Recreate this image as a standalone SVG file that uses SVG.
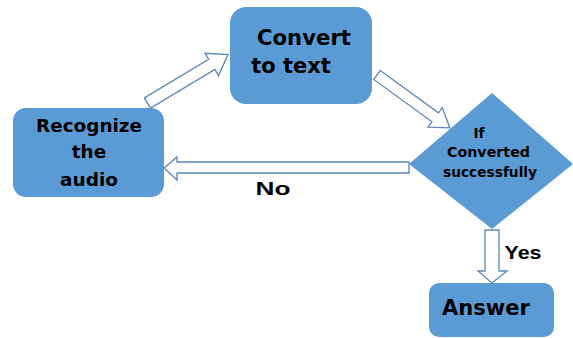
<svg xmlns="http://www.w3.org/2000/svg" width="573" height="338" viewBox="0 0 573 338">
<style>
.box{fill:#5B9BD5;}
.arr{fill:#ffffff;stroke:#5E86B5;stroke-width:1.3;stroke-linejoin:miter;}
.t{font-family:"DejaVu Sans","Liberation Sans",sans-serif;font-weight:bold;fill:#000;text-anchor:middle;}
.lbl{font-family:"Liberation Sans",Arial,sans-serif;font-weight:bold;fill:#000;text-anchor:middle;}
</style>
<rect width="573" height="338" fill="#ffffff"/>
<g id="connectors">
<polygon class="arr" transform="translate(147.5 103) rotate(-31)" points="0,-6 75,-6 75,-13 94,0 75,13 75,6 0,6"/>
<polygon class="arr" transform="translate(377 75) rotate(36)" points="0,-5.5 72,-5.5 72,-12 90,0 72,12 72,5.5 0,5.5"/>
<polygon class="arr" points="409,162 177,162 177,157 164,168 177,180 177,173 409,173"/>
<polygon class="arr" points="485,230 499,230 499,271 507,271 492,283 478,271 485,271"/>
<text class="lbl" x="273" y="195" font-size="18" textLength="35" lengthAdjust="spacingAndGlyphs">No</text>
<text class="lbl" x="523" y="259" font-size="19" textLength="37" lengthAdjust="spacingAndGlyphs">Yes</text>
</g>
<g id="recognize">
<rect class="box" x="13" y="108" width="151" height="89" rx="13"/>
<text class="t" x="89" y="132" font-size="18.5" textLength="106" lengthAdjust="spacingAndGlyphs">Recognize</text>
<text class="t" x="89" y="158" font-size="18.5">the</text>
<text class="t" x="89" y="186" font-size="18.5">audio</text>
</g>
<g id="convert">
<rect class="box" x="230" y="7" width="142" height="97" rx="16"/>
<text class="t" x="304" y="45" font-size="21" textLength="94" lengthAdjust="spacingAndGlyphs">Convert</text>
<text class="t" x="291" y="73" font-size="21">to text</text>
</g>
<g id="decision">
<polygon class="box" points="409,164 492,93 573,164 492,229"/>
<text class="t" x="479" y="138" font-size="13.8">If</text>
<text class="t" x="488.5" y="157" font-size="13.8" textLength="83" lengthAdjust="spacingAndGlyphs">Converted</text>
<text class="t" x="490" y="177" font-size="13.8" textLength="94" lengthAdjust="spacingAndGlyphs">successfully</text>
</g>
<g id="answer">
<rect class="box" x="429" y="283" width="125" height="54" rx="10"/>
<text class="t" x="486" y="315" font-size="21" textLength="88" lengthAdjust="spacingAndGlyphs">Answer</text>
</g>
</svg>
